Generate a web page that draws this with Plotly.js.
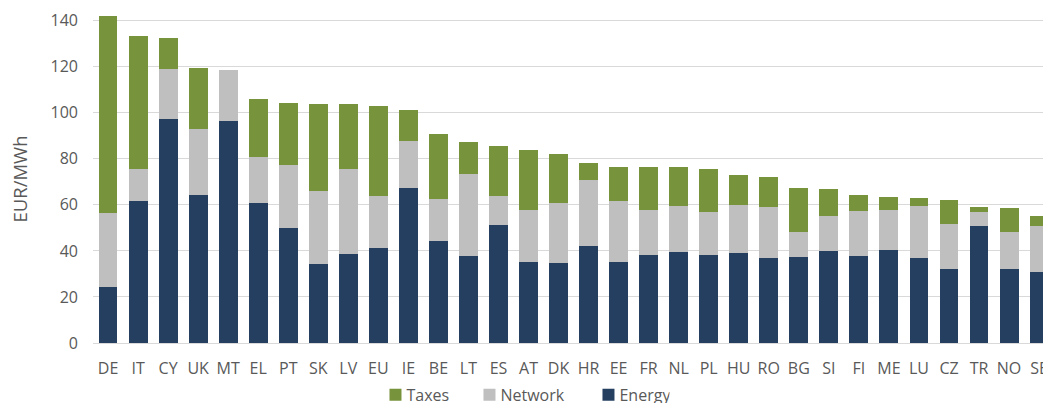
<!DOCTYPE html>
<html>
<head>
<meta charset="utf-8">
<script src="https://cdn.plot.ly/plotly-3.0.1.min.js"></script>
<style>html,body{margin:0;padding:0;overflow:hidden;background:#fff}#chart{width:1043px;height:403px}</style>
</head>
<body>
<div id="chart"></div>
<script>
const countries = ["DE","IT","CY","UK","MT","EL","PT","SK","LV","EU","IE","BE","LT","ES","AT","DK","HR","EE","FR","NL","PL","HU","RO","BG","SI","FI","ME","LU","CZ","TR","NO","SE"];
const energy  = [24.5,61.8,97.4,64.4,96.6,60.9,50.1,34.4,38.8,41.4,67.5,44.4,37.9,51.4,35.3,34.8,42.3,35.3,38.4,39.7,38.4,39.2,37.0,37.5,40.1,37.9,40.5,37.0,32.3,50.9,32.3,31.0];
const network = [32.0,13.9,21.8,28.7,22.1,20.0,27.4,31.8,36.9,22.6,20.4,18.3,35.6,12.6,22.6,26.1,28.6,26.5,19.5,19.9,18.6,20.9,22.2,10.9,15.2,19.6,17.4,22.6,19.5,6.1,16.1,19.9];
const taxes   = [85.7,57.8,13.4,26.5,0.0,25.2,26.9,37.7,28.2,39.1,13.4,28.2,13.9,21.7,26.1,21.3,7.4,14.8,18.7,17.0,18.7,13.0,13.1,19.1,11.8,7.0,5.7,3.6,10.5,2.2,10.4,4.4];
const labels  = {taxes:"Taxes", network:"Network", energy:"Energy"};
const yTitle  = "EUR/MWh";
const yTicks  = [0,20,40,60,80,100,120,140];

const font = "'Open Sans', sans-serif";
const traces = [
  {type:"bar", name:labels.energy, x:countries, y:energy, marker:{color:"#243f60"}},
  {type:"bar", name:labels.network, x:countries, y:network, marker:{color:"#bfbfbf"}},
  {type:"bar", name:labels.taxes, x:countries, y:taxes, marker:{color:"#77933c"}}
];
const layout = {
  width:1043, height:403,
  margin:{l:92.5, r:0, t:15, b:60, pad:0, autoexpand:false},
  barmode:"stack", bargap:0.37,
  paper_bgcolor:"#ffffff", plot_bgcolor:"#ffffff",
  font:{family:font, size:16, color:"#595959"},
  showlegend:true,
  legend:{orientation:"h", traceorder:"reversed", xref:"container", yref:"container",
          x:0.36, xanchor:"left", y:0.02, yanchor:"middle",
          font:{family:font, size:16, color:"#595959"}},
  xaxis:{type:"category", range:[-0.5,31.13], showgrid:false, showline:false, ticks:"",
         automargin:false, ticklabelstandoff:14,
         tickfont:{family:font, size:16, color:"#595959"}, fixedrange:true},
  yaxis:{range:[0,142.5], tickvals:yTicks, showgrid:true, gridcolor:"#d9d9d9", gridwidth:1,
         zeroline:true, zerolinecolor:"#d9d9d9", zerolinewidth:1, showline:false, ticks:"",
         automargin:false, ticklabelstandoff:14,
         tickfont:{family:font, size:16, color:"#595959"},
         title:{text:yTitle, font:{family:font, size:18.5, color:"#595959"}, standoff:18}}
};
const legendOffsets = [0, 94, 213];
Plotly.newPlot("chart", traces, layout, {displayModeBar:false, staticPlot:true}).then(function(gd){
  // reference legend: labels close to swatches, uneven item spacing
  const items = gd.querySelectorAll(".legend .traces");
  let x0 = null, y0 = 0;
  items.forEach(function(g, i){
    const m = /translate\(\s*([-\d.]+)[ ,]+([-\d.]+)/.exec(g.getAttribute("transform") || "");
    if (m && x0 === null) { x0 = parseFloat(m[1]); y0 = parseFloat(m[2]); }
    const y = m ? parseFloat(m[2]) : y0;
    if (i < legendOffsets.length) g.setAttribute("transform", "translate(" + (x0 + legendOffsets[i]) + "," + y + ")");
    const t = g.querySelector(".legendtext");
    if (t) t.setAttribute("x", 31);
  });
});
</script>
</body>
</html>
